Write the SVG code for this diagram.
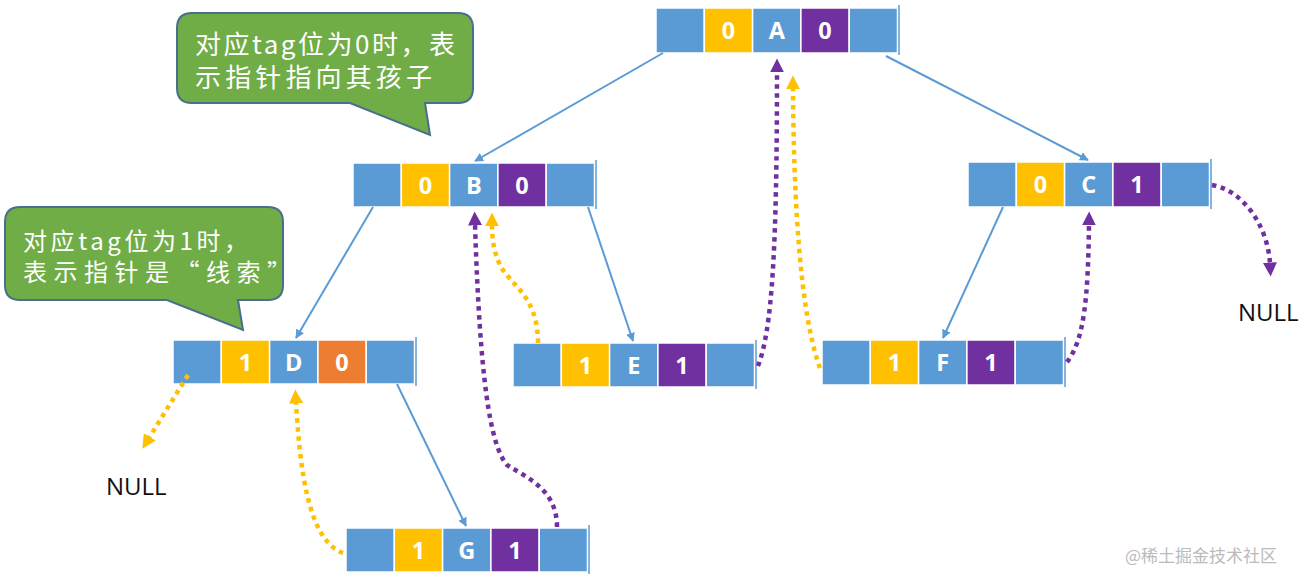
<svg xmlns="http://www.w3.org/2000/svg" width="1305" height="584" viewBox="0 0 1305 584">
<style>
.cb{fill:#5B9BD5;stroke:#fff;stroke-width:1.5}
.cy{fill:#FFC000;stroke:#fff;stroke-width:1.5}
.cp{fill:#7030A0;stroke:#fff;stroke-width:1.5}
.co{fill:#ED7D31;stroke:#fff;stroke-width:1.5}
.edge{stroke:#5B9BD5;stroke-width:1.5}
.ct{font-family:"Open Sans","Liberation Sans",sans-serif;font-weight:700;font-size:23.5px;fill:#fff;text-anchor:middle}
.call{fill:#70AD47;stroke:#4A6F8A;stroke-width:2}
.calt{font-family:"Noto Sans CJK SC","Noto Sans",sans-serif;fill:#fff}
.null{font-family:"Open Sans","Liberation Sans",sans-serif;font-size:24px;fill:#111}
.sol{fill:none;stroke:#5B9BD5;stroke-width:2}
.dy{fill:none;stroke:#FFC000;stroke-width:4.5;stroke-dasharray:4.5 4.5}
.dp{fill:none;stroke:#7030A0;stroke-width:4.5;stroke-dasharray:4.5 4.5}
</style>
<defs>
<marker id="ab" viewBox="0 0 10 10" refX="9" refY="5" markerWidth="9" markerHeight="9" markerUnits="userSpaceOnUse" orient="auto"><path d="M0,0 L10,5 L0,10 z" fill="#5B9BD5"/></marker>
<marker id="ay" viewBox="0 0 10 10" refX="1" refY="5" markerWidth="14" markerHeight="14" markerUnits="userSpaceOnUse" orient="auto"><path d="M0,0 L10,5 L0,10 z" fill="#FFC000"/></marker>
<marker id="ap" viewBox="0 0 10 10" refX="1" refY="5" markerWidth="14" markerHeight="14" markerUnits="userSpaceOnUse" orient="auto"><path d="M0,0 L10,5 L0,10 z" fill="#7030A0"/></marker>
</defs>
<rect width="1305" height="584" fill="#fff"/>

<g id="callout-0">
<path class="call" d="M192,13 H458 Q473,13 473,28 V88 Q473,103 458,103 H425 L430,135 L350,103 H192 Q177,103 177,88 V28 Q177,13 192,13 Z"/>
<text class="calt" x="195" y="54" font-size="26" textLength="260" lengthAdjust="spacing">对应tag位为0时，表</text>
<text class="calt" x="195" y="87" font-size="26" textLength="237" lengthAdjust="spacing">示指针指向其孩子</text>
</g>
<g id="callout-1">
<path class="call" d="M20,207 H268 Q283,207 283,222 V285 Q283,300 268,300 H238 L243,330 L167,300 H20 Q5,300 5,285 V222 Q5,207 20,207 Z"/>
<text class="calt" x="23" y="250" font-size="24" textLength="225" lengthAdjust="spacing">对应tag位为1时，</text>
<text class="calt" x="23" y="281" font-size="24" textLength="268" lengthAdjust="spacing">表示指针是“线索”</text>
</g>

<g id="node-A" transform="translate(656,8)">
<rect class="cb" x="0" y="0" width="48.3" height="45"/><rect class="cy" x="48.3" y="0" width="48.3" height="45"/><rect class="cb" x="96.6" y="0" width="48.3" height="45"/><rect class="cp" x="144.9" y="0" width="48.3" height="45"/><rect class="cb" x="193.2" y="0" width="48.3" height="45"/>
<line class="edge" x1="243" y1="-3" x2="243" y2="47"/>
<text class="ct" x="72.5" y="31">0</text><text class="ct" x="120.8" y="31">A</text><text class="ct" x="169" y="31">0</text>
</g>
<g id="node-B" transform="translate(353,163)">
<rect class="cb" x="0" y="0" width="48.3" height="44"/><rect class="cy" x="48.3" y="0" width="48.3" height="44"/><rect class="cb" x="96.6" y="0" width="48.3" height="44"/><rect class="cp" x="144.9" y="0" width="48.3" height="44"/><rect class="cb" x="193.2" y="0" width="48.3" height="44"/>
<line class="edge" x1="243" y1="-3" x2="243" y2="46"/>
<text class="ct" x="72.5" y="30.5">0</text><text class="ct" x="120.8" y="30.5">B</text><text class="ct" x="169" y="30.5">0</text>
</g>
<g id="node-C" transform="translate(968,162)">
<rect class="cb" x="0" y="0" width="48.3" height="45"/><rect class="cy" x="48.3" y="0" width="48.3" height="45"/><rect class="cb" x="96.6" y="0" width="48.3" height="45"/><rect class="cp" x="144.9" y="0" width="48.3" height="45"/><rect class="cb" x="193.2" y="0" width="48.3" height="45"/>
<line class="edge" x1="243" y1="-3" x2="243" y2="47"/>
<text class="ct" x="72.5" y="31">0</text><text class="ct" x="120.8" y="31">C</text><text class="ct" x="169" y="31">1</text>
</g>
<g id="node-D" transform="translate(173,340)">
<rect class="cb" x="0" y="0" width="48.3" height="44"/><rect class="cy" x="48.3" y="0" width="48.3" height="44"/><rect class="cb" x="96.6" y="0" width="48.3" height="44"/><rect class="co" x="144.9" y="0" width="48.3" height="44"/><rect class="cb" x="193.2" y="0" width="48.3" height="44"/>
<line class="edge" x1="243" y1="-3" x2="243" y2="46"/>
<text class="ct" x="72.5" y="30.5">1</text><text class="ct" x="120.8" y="30.5">D</text><text class="ct" x="169" y="30.5">0</text>
</g>
<g id="node-E" transform="translate(513,343)">
<rect class="cb" x="0" y="0" width="48.3" height="44"/><rect class="cy" x="48.3" y="0" width="48.3" height="44"/><rect class="cb" x="96.6" y="0" width="48.3" height="44"/><rect class="cp" x="144.9" y="0" width="48.3" height="44"/><rect class="cb" x="193.2" y="0" width="48.3" height="44"/>
<line class="edge" x1="243" y1="-3" x2="243" y2="46"/>
<text class="ct" x="72.5" y="30.5">1</text><text class="ct" x="120.8" y="30.5">E</text><text class="ct" x="169" y="30.5">1</text>
</g>
<g id="node-F" transform="translate(822,340)">
<rect class="cb" x="0" y="0" width="48.3" height="45"/><rect class="cy" x="48.3" y="0" width="48.3" height="45"/><rect class="cb" x="96.6" y="0" width="48.3" height="45"/><rect class="cp" x="144.9" y="0" width="48.3" height="45"/><rect class="cb" x="193.2" y="0" width="48.3" height="45"/>
<line class="edge" x1="243" y1="-3" x2="243" y2="47"/>
<text class="ct" x="72.5" y="31">1</text><text class="ct" x="120.8" y="31">F</text><text class="ct" x="169" y="31">1</text>
</g>
<g id="node-G" transform="translate(346,528)">
<rect class="cb" x="0" y="0" width="48.3" height="44"/><rect class="cy" x="48.3" y="0" width="48.3" height="44"/><rect class="cb" x="96.6" y="0" width="48.3" height="44"/><rect class="cp" x="144.9" y="0" width="48.3" height="44"/><rect class="cb" x="193.2" y="0" width="48.3" height="44"/>
<line class="edge" x1="243" y1="-3" x2="243" y2="46"/>
<text class="ct" x="72.5" y="30.5">1</text><text class="ct" x="120.8" y="30.5">G</text><text class="ct" x="169" y="30.5">1</text>
</g>

<g id="null-left"><text class="null" x="106" y="495">NULL</text></g>
<g id="null-right"><text class="null" x="1238" y="321">NULL</text></g>

<g id="connectors">
<path class="sol" d="M663,53 L475,161" marker-end="url(#ab)"/>
<path class="sol" d="M886,56 L1088,160" marker-end="url(#ab)"/>
<path class="sol" d="M373,207 L296,338" marker-end="url(#ab)"/>
<path class="sol" d="M588,207 L633,341" marker-end="url(#ab)"/>
<path class="sol" d="M397,384 L466,526" marker-end="url(#ab)"/>
<path class="sol" d="M1003,207 L943,338" marker-end="url(#ab)"/>

<path class="dy" d="M188,375 L149,438" marker-end="url(#ay)"/>
<path class="dy" d="M343,553 C308,540 300,470 296,402" marker-end="url(#ay)"/>
<path class="dp" d="M557,527 C557,490 528,478 507,465 C490,445 480,380 475,224" marker-end="url(#ap)"/>
<path class="dy" d="M538,343 C538,295 510,285 500,265 C494,252 492,240 492,225" marker-end="url(#ay)"/>
<path class="dp" d="M758,366 C772,330 777,250 777,71" marker-end="url(#ap)"/>
<path class="dy" d="M820,368 C806,330 794,250 793,88" marker-end="url(#ay)"/>
<path class="dp" d="M1067,362 C1084,340 1088,300 1089,224" marker-end="url(#ap)"/>
<path class="dp" d="M1212,185 C1242,190 1268,225 1270,264" marker-end="url(#ap)"/>
</g>

<text x="1125" y="562" font-family="Noto Sans CJK SC, sans-serif" font-size="17" fill="#BBBBBB">@稀土掘金技术社区</text>
</svg>
